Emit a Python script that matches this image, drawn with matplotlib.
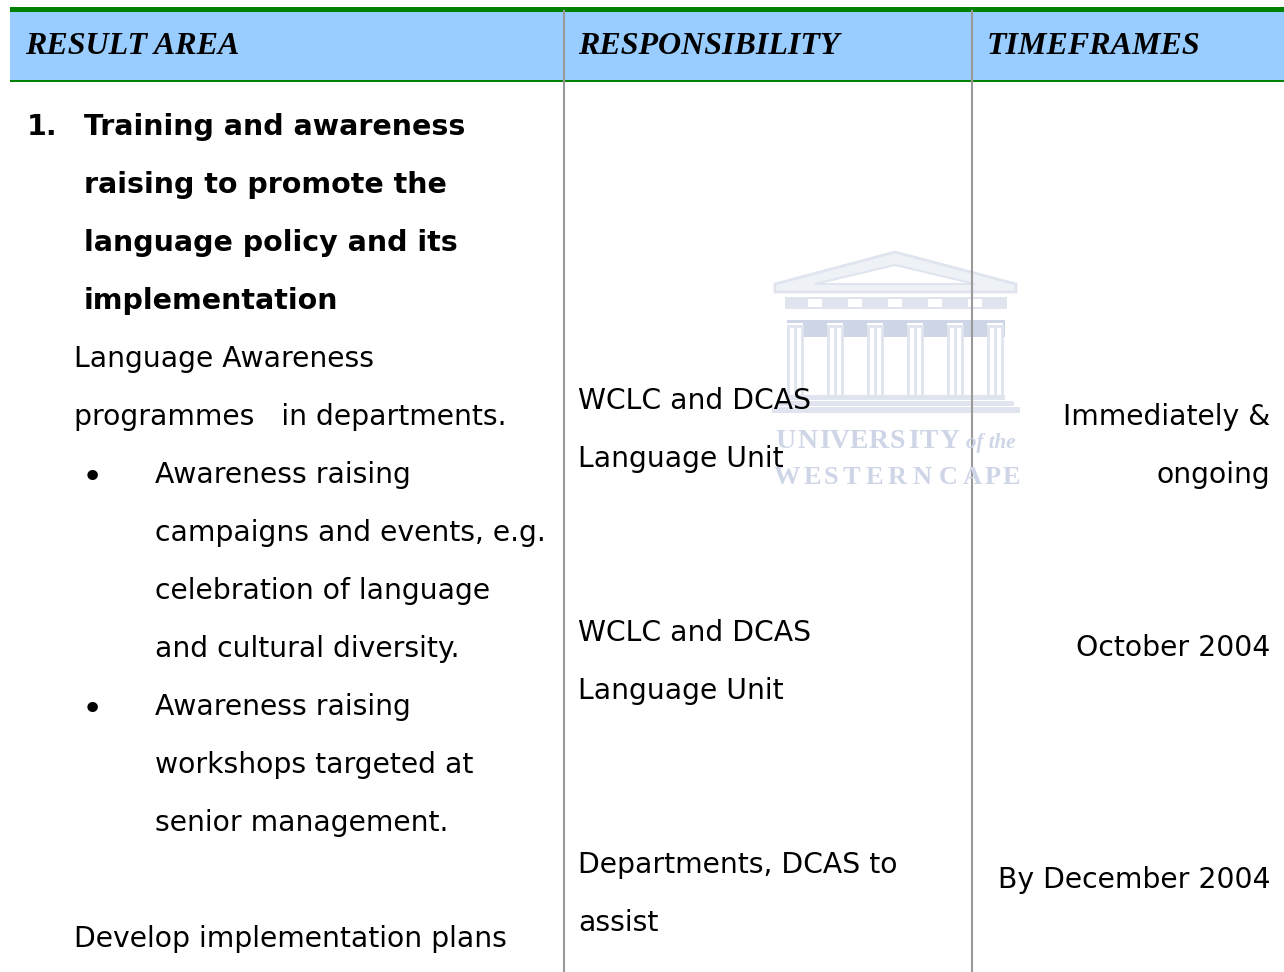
import matplotlib
matplotlib.use('Agg')
import matplotlib.pyplot as plt
from matplotlib.patches import Rectangle, Polygon

W, H = 1284, 972

headers = ['RESULT AREA', 'RESPONSIBILITY', 'TIMEFRAMES']
header_x = [25, 578, 987]

heading_lines = ['Training and awareness', 'raising to promote the', 'language policy and its', 'implementation']
heading_y = [127, 185, 243, 301]

body_lines = ['Language Awareness', 'programmes   in departments.', 'Develop implementation plans']
body_y = [359, 417, 939]

bullet1 = ['Awareness raising', 'campaigns and events, e.g.', 'celebration of language', 'and cultural diversity.']
bullet1_y = [475, 533, 591, 649]
bullet2 = ['Awareness raising', 'workshops targeted at', 'senior management.']
bullet2_y = [707, 765, 823]

resp_lines = ['WCLC and DCAS', 'Language Unit', 'WCLC and DCAS', 'Language Unit', 'Departments, DCAS to', 'assist']
resp_y = [401, 459, 633, 691, 865, 923]

time_lines = ['Immediately &', 'ongoing', 'October 2004', 'By December 2004']
time_y = [417, 475, 648, 880]

col_lines = [564, 972]
column_x = [795, 835, 875, 915, 955, 995]
metope_x = [808, 848, 888, 928, 968]
uni_x = [785, 807, 824, 840, 859, 879, 897, 913, 929, 949]
cape_x = [787, 812, 831, 851, 874, 897, 922, 948, 972, 993, 1011]

FONT = 'DejaVu Sans'
SERIF = 'Liberation Serif'
SIZE = 20.3
BOLD_SIZE = 20.5

fig = plt.figure(figsize=(W/100, H/100), dpi=100, facecolor='white')
ax = fig.add_axes([0, 0, 1, 1])
ax.set_xlim(0, W)
ax.set_ylim(H, 0)
ax.axis('off')

# watermark, drawn first so everything sits on top
wm = '#dfe4ef'
wm_dark = '#ced5e6'
ax.add_patch(Polygon([(775, 284), (895, 252), (1016, 284), (1016, 292), (775, 292)], fc='#eef1f6', ec=wm, lw=2))
ax.add_patch(Polygon([(815, 284), (895, 265), (975, 284)], fc='white', ec=wm, lw=1.5))
ax.add_patch(Rectangle((785, 297), 222, 12, fc=wm, ec='none'))
for x in metope_x:
    ax.add_patch(Rectangle((x, 299), 14, 8, fc='white', ec='none'))
ax.add_patch(Rectangle((787, 320), 218, 17, fc=wm_dark, ec='none'))
for x in column_x:
    ax.add_patch(Rectangle((x-8, 323), 16, 3, fc='white', ec='none'))
    ax.add_patch(Rectangle((x-7, 326), 14, 70, fc='white', ec=wm, lw=2))
    ax.plot([x, x], [326, 396], color=wm, lw=2)
ax.add_patch(Rectangle((785, 395), 220, 5, fc=wm, ec='none'))
ax.add_patch(Rectangle((778, 401), 236, 5, fc=wm, ec='none'))
ax.add_patch(Rectangle((772, 407), 248, 6, fc=wm, ec='none'))
for ch, x in zip('UNIVERSITY', uni_x):
    ax.text(x, 441, ch, family=SERIF, fontsize=20, color=wm_dark, weight='bold', va='center', ha='center')
ax.text(966, 443, 'of the', family=SERIF, fontsize=15, color=wm_dark, style='italic', weight='bold', va='center')
for ch, x in zip('WESTERNCAPE', cape_x):
    ax.text(x, 477, ch, family=SERIF, fontsize=19, color=wm_dark, weight='bold', va='center', ha='center')

# header band
ax.add_patch(Rectangle((10, 11), W-10, 69, fc='#99ccff', ec='none'))
ax.add_patch(Rectangle((10, 7), W-10, 5, fc='#008000', ec='none'))
ax.add_patch(Rectangle((10, 80), W-10, 2, fc='#008000', ec='none'))
for x in col_lines:
    ax.plot([x, x], [11, H], color='#999999', lw=1.5)

for s, x in zip(headers, header_x):
    ax.text(x, 46, s, family=SERIF, fontsize=23, weight='bold', style='italic', color='black', va='center')

ax.text(27, 127, '1.', family=FONT, fontsize=BOLD_SIZE, weight='bold', va='center')
for s, y in zip(heading_lines, heading_y):
    ax.text(84, y, s, family=FONT, fontsize=BOLD_SIZE, weight='bold', va='center')

for s, y in zip(body_lines, body_y):
    ax.text(74, y, s, family=FONT, fontsize=SIZE, va='center')

for lines, ys in [(bullet1, bullet1_y), (bullet2, bullet2_y)]:
    ax.text(92, ys[0] + 3, '\u2022', family=FONT, fontsize=26, va='center', ha='center')
    for s, y in zip(lines, ys):
        ax.text(155, y, s, family=FONT, fontsize=SIZE, va='center')

for s, y in zip(resp_lines, resp_y):
    ax.text(578, y, s, family=FONT, fontsize=SIZE, va='center')

for s, y in zip(time_lines, time_y):
    ax.text(1270, y, s, family=FONT, fontsize=SIZE, va='center', ha='right')

fig.savefig('out.png', dpi=100)
